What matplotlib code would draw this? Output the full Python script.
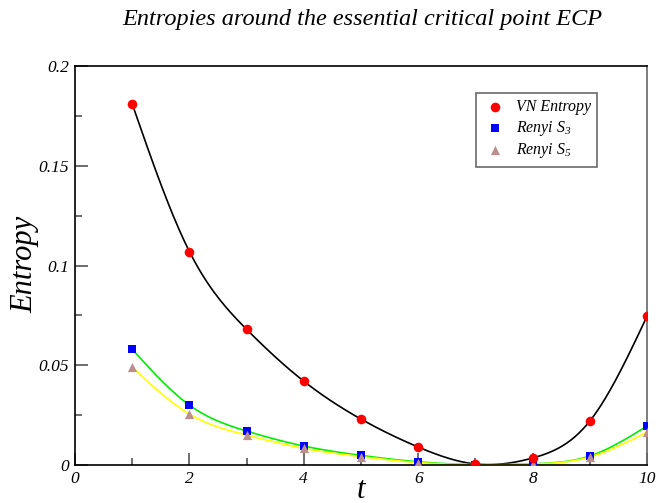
import numpy as np
import matplotlib
matplotlib.use("Agg")
import matplotlib.pyplot as plt

t = [1, 2, 3, 4, 5, 6, 7, 8, 9, 10]
vn_entropy = [0.181, 0.107, 0.068, 0.042, 0.023, 0.009, 0.0005, 0.0035, 0.022, 0.0745]
renyi_s3 = [0.058, 0.030, 0.017, 0.0095, 0.0048, 0.0016, 0.0002, 0.0006, 0.0045, 0.0195]
renyi_s5 = [0.049, 0.0255, 0.015, 0.0083, 0.0042, 0.0012, 0.0001, 0.0004, 0.0040, 0.0165]

title = "Entropies around the essential critical point ECP"
labels = ["VN Entropy", "Renyi $S_3$", "Renyi $S_5$"]


def natural_spline(x, y, n=400):
    x = np.asarray(x, float)
    y = np.asarray(y, float)
    m = len(x)
    h = np.diff(x)
    A = np.zeros((m, m))
    b = np.zeros(m)
    A[0, 0] = A[-1, -1] = 1
    for i in range(1, m - 1):
        A[i, i - 1] = h[i - 1]
        A[i, i] = 2 * (h[i - 1] + h[i])
        A[i, i + 1] = h[i]
        b[i] = 3 * ((y[i + 1] - y[i]) / h[i] - (y[i] - y[i - 1]) / h[i - 1])
    c = np.linalg.solve(A, b)
    xs = np.linspace(x[0], x[-1], n)
    idx = np.clip(np.searchsorted(x, xs) - 1, 0, m - 2)
    dx = xs - x[idx]
    bb = (y[idx + 1] - y[idx]) / h[idx] - h[idx] * (2 * c[idx] + c[idx + 1]) / 3
    d = (c[idx + 1] - c[idx]) / (3 * h[idx])
    ys = y[idx] + bb * dx + c[idx] * dx ** 2 + d * dx ** 3
    return xs, ys


plt.rcParams['font.family'] = ['Liberation Serif', 'DejaVu Serif']
plt.rcParams['mathtext.fontset'] = 'custom'
plt.rcParams['mathtext.it'] = 'Liberation Serif:italic'
plt.rcParams['mathtext.rm'] = 'Liberation Serif:italic'

fig = plt.figure(figsize=(6.56, 5.03), dpi=100)
ax = fig.add_axes([75 / 656, 38 / 503, 572 / 656, 399 / 503])

for yv, col in [(vn_entropy, 'black'), (renyi_s3, '#00ee00'), (renyi_s5, '#ffff00')]:
    xs, ys = natural_spline(t, yv)
    ax.plot(xs, ys, color=col, lw=1.2, zorder=2)

ax.scatter(t, vn_entropy, marker='o', s=48, color='#ff0000', label=labels[0], zorder=4, linewidths=0)
ax.scatter(t, renyi_s3, marker='s', s=40, color='#0000ff', label=labels[1], zorder=3, linewidths=0)
ax.scatter(t, renyi_s5, marker='^', s=44, color='#bc8f8f', label=labels[2], zorder=3, linewidths=0)

ax.set_xlim(0, 10)
ax.set_ylim(0, 0.2)
ax.set_xticks([0, 2, 4, 6, 8, 10])
ax.set_xticks([1, 3, 5, 7, 9], minor=True)
ax.set_yticks([0, 0.05, 0.1, 0.15, 0.2])
ax.set_yticks([0.025, 0.075, 0.125, 0.175], minor=True)
ax.set_xticklabels(['0', '2', '4', '6', '8', '10'])
ax.set_yticklabels(['0', '0.05', '0.1', '0.15', '0.2'])
ax.tick_params(which='both', direction='in', color='#555555', labelsize=12.5, width=1.2)
ax.tick_params(which='major', length=9, pad=4)
ax.tick_params(which='minor', length=5)
for lab in ax.get_xticklabels() + ax.get_yticklabels():
    lab.set_fontstyle('italic')
for s in ax.spines.values():
    s.set_linewidth(1.2)
ax.spines['right'].set_color('#666666')

fig.text(361 / 656, 1 - 490 / 503, 't', fontsize=22, fontstyle='italic', ha='center', va='center')
fig.text(25 / 656, 1 - 264 / 503, 'Entropy', fontsize=22, fontstyle='italic', ha='center', va='center',
         rotation=90)
fig.text(362 / 656, 1 - 20 / 503, title, ha='center', va='center', fontsize=17.5, fontstyle='italic')

leg = ax.legend(loc='upper right', bbox_to_anchor=(0.9126, 0.932), borderaxespad=0, frameon=True,
                fancybox=False, edgecolor='#444444', prop={'style': 'italic', 'size': 11.4},
                handletextpad=0.5, borderpad=0.4, labelspacing=0.22, scatterpoints=1,
                handlelength=1.6)
leg.get_frame().set_linewidth(1.2)

fig.savefig('out.png', dpi=100)
